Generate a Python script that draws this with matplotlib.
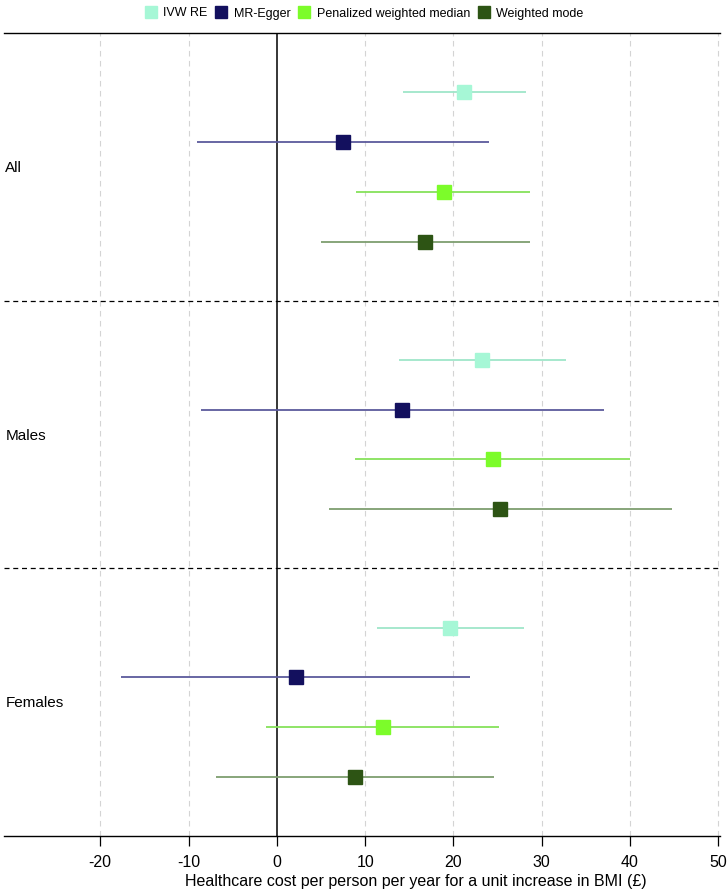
import matplotlib
matplotlib.use("Agg")
import matplotlib.pyplot as plt
from matplotlib.lines import Line2D
import numpy as np

plt.rcParams['font.family'] = ['Liberation Sans', 'DejaVu Sans']

groups = ["All", "Males", "Females"]
methods = ["IVW RE", "MR-Egger", "Penalized weighted median", "Weighted mode"]

# estimates and 95% CI, per group (rows) and method (columns)
est_all = [21.2, 7.5, 18.9, 16.8]
lo_all = [14.3, -9.0, 9.0, 5.0]
hi_all = [28.2, 24.0, 28.7, 28.7]

est_males = [23.2, 14.2, 24.5, 25.3]
lo_males = [13.8, -8.6, 8.9, 5.9]
hi_males = [32.7, 37.1, 40.0, 44.7]

est_females = [19.6, 2.2, 12.0, 8.9]
lo_females = [11.4, -17.6, -1.2, -6.9]
hi_females = [28.0, 21.9, 25.2, 24.6]

marker_colors = ["#a6f7d6", "#13105e", "#7cfc2a", "#2d5414"]
line_colors = ["#9fe6c9", "#5c5a9c", "#86e25a", "#7e9e70"]

xticks = [-20, -10, 0, 10, 20, 30, 40, 50]
xlabel = "Healthcare cost per person per year for a unit increase in BMI (£)"

est = [est_all, est_males, est_females]
lo = [lo_all, lo_males, lo_females]
hi = [hi_all, hi_males, hi_females]

fig = plt.figure(figsize=(7.28, 8.96), dpi=100)
ax = fig.add_axes([0.0055, 0.067, 0.983, 0.896])

sec_h = 5.38
first = 1.19
for gi, g in enumerate(groups):
    base = gi * sec_h
    for mi in range(len(methods)):
        y = base + first + mi
        ax.plot([lo[gi][mi], hi[gi][mi]], [y, y], color=line_colors[mi], lw=1.3,
                solid_capstyle='butt', zorder=3)
        ax.plot(est[gi][mi], y, marker='s', ms=10.5, color=marker_colors[mi],
                mec=marker_colors[mi], zorder=4)
    ax.text(-30.75, base + sec_h / 2 + 0.02, g, ha='left', va='center', fontsize=11)
    if gi > 0:
        ax.axhline(base, color='black', lw=0.9, ls=(0, (4, 3)), zorder=2)

for t in xticks:
    if t != 0:
        ax.axvline(t, color='#d4d4d4', lw=0.8, ls=(0, (5, 4)), zorder=1)
ax.axvline(0, color='black', lw=1.1, zorder=2)

ax.set_xlim(-30.9, 50.15)
ax.set_ylim(3 * sec_h, 0)
ax.set_yticks([])
ax.set_xticks(xticks)
ax.set_xticklabels([str(t) for t in xticks], fontsize=11.5)
ax.tick_params(axis='x', length=7, width=0.9, pad=7, colors='black')
ax.spines['left'].set_visible(False)
ax.spines['right'].set_visible(False)
ax.spines['top'].set_linewidth(1.0)
ax.spines['bottom'].set_linewidth(1.0)
ax.set_xlabel(xlabel, fontsize=11.5)
ax.xaxis.set_label_coords(0.576, -0.047)

handles = [Line2D([], [], marker='s', ls='none', ms=8, color=c, mec=c) for c in marker_colors]
fig.legend(handles, methods, loc='upper center', bbox_to_anchor=(0.5, 1.0), ncol=4,
           frameon=False, fontsize=9, handletextpad=0.5, columnspacing=0.6,
           handlelength=1.0, borderaxespad=0.2)

fig.savefig("out.png", dpi=100)
